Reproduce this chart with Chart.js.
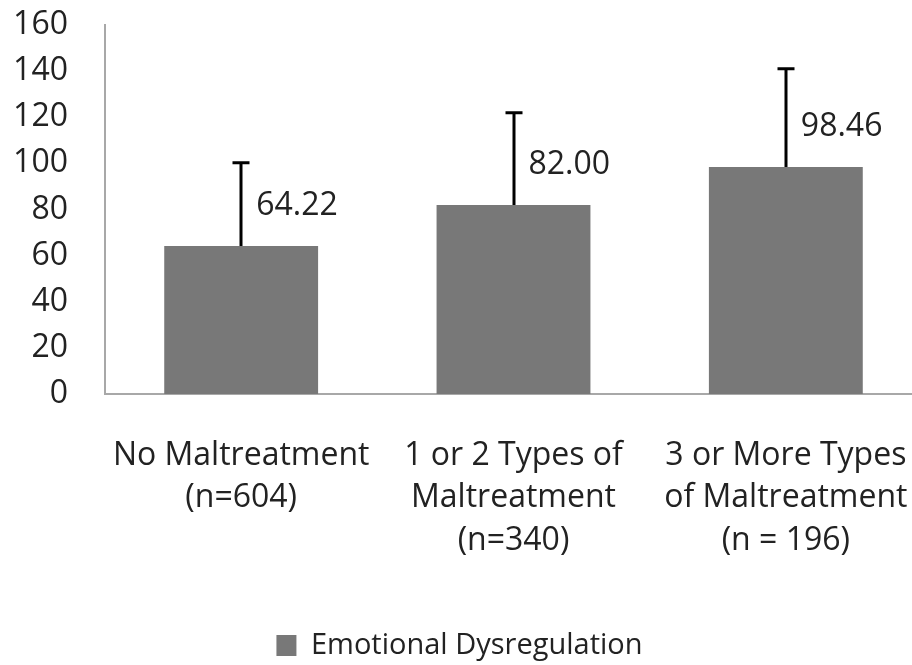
<!DOCTYPE html>
<html>
<head>
<meta charset="utf-8">
<script src="https://cdn.jsdelivr.net/npm/chart.js@4"></script>
<style>
  html, body { margin: 0; padding: 0; background: #fff; }
  #wrap { width: 912px; height: 665px; overflow: hidden; position: relative; }
  canvas { display: block; }
</style>
</head>
<body>
<div id="wrap"><canvas id="c" width="922" height="665" style="width:922px;height:665px"></canvas></div>
<script>
const categories = [
  ["No Maltreatment", "(n=604)"],
  ["1 or 2 Types of", "Maltreatment", "(n=340)"],
  ["3 or More Types", "of Maltreatment", "(n = 196)"]
];
const seriesName = "Emotional Dysregulation";
const means = [64.22, 82.00, 98.46];
const errorsUp = [36.0, 40.0, 42.6];
const valueLabels = ["64.22", "82.00", "98.46"];
const yTicks = [0, 20, 40, 60, 80, 100, 120, 140, 160];

const FONT = '"Open Sans", "DejaVu Sans", sans-serif';
const TEXT = '#222222';

const errorBarPlugin = {
  id: 'errorBars',
  afterUpdate(chart) {
    const lg = chart.legend;
    if (lg) {
      lg.top += 5; lg.bottom += 5;
      lg.left -= 8; lg.right -= 8;
    }
  },
  afterDatasetsDraw(chart) {
    const ctx = chart.ctx;
    const meta = chart.getDatasetMeta(0);
    const y = chart.scales.y;
    ctx.save();
    ctx.strokeStyle = '#000';
    ctx.lineWidth = 3;
    meta.data.forEach((bar, i) => {
      const x = Math.round(bar.x);
      const top = y.getPixelForValue(means[i] + errorsUp[i]);
      ctx.beginPath();
      ctx.moveTo(x, bar.y);
      ctx.lineTo(x, top);
      ctx.moveTo(x - 8.5, top);
      ctx.lineTo(x + 8.5, top);
      ctx.stroke();
    });
    ctx.fillStyle = TEXT;
    ctx.font = '32px ' + FONT;
    ctx.textAlign = 'left';
    ctx.textBaseline = 'middle';
    meta.data.forEach((bar, i) => {
      ctx.fillText(valueLabels[i], bar.x + 15, bar.y - 40);
    });
    ctx.restore();
  }
};

function draw() {
  new Chart(document.getElementById('c'), {
    type: 'bar',
    data: {
      labels: categories,
      datasets: [{
        label: seriesName,
        data: means,
        backgroundColor: '#787878',
        borderWidth: 0,
        categoryPercentage: 1.0,
        barPercentage: 0.565
      }]
    },
    options: {
      responsive: false,
      animation: false,
      layout: { padding: { left: 13, top: 25, right: 0, bottom: 0 } },
      scales: {
        x: {
          grid: { display: false, drawTicks: false },
          border: { display: true, color: '#a8a8a8', width: 2 },
          ticks: {
            color: TEXT,
            font: { family: FONT, size: 32, lineHeight: 1.34 },
            padding: 40,
            maxRotation: 0,
            autoSkip: false
          },
          afterFit(scale) {
            scale.height = 225;
            scale.paddingLeft = 0;
            scale.paddingRight = 0;
          }
        },
        y: {
          min: 0,
          max: 160,
          afterBuildTicks(scale) { scale.ticks = yTicks.map(v => ({ value: v })); },
          grid: { display: false, drawTicks: false },
          border: { display: true, color: '#a8a8a8', width: 2 },
          ticks: {
            color: TEXT,
            font: { family: FONT, size: 32 },
            padding: 37
          },
          afterFit(scale) {
            scale.width = 92;
            scale.paddingTop = 0;
            scale.paddingBottom = 0;
          }
        }
      },
      plugins: {
        legend: {
          position: 'bottom',
          labels: {
            color: TEXT,
            font: { family: FONT, size: 29 },
            boxWidth: 20,
            boxHeight: 21,
            padding: 7
          }
        },
        tooltip: { enabled: false }
      }
    },
    plugins: [errorBarPlugin]
  });
}

Promise.all([
  document.fonts.load('32px "Open Sans"'),
  document.fonts.load('29px "Open Sans"')
]).then(draw, draw);
</script>
</body>
</html>
